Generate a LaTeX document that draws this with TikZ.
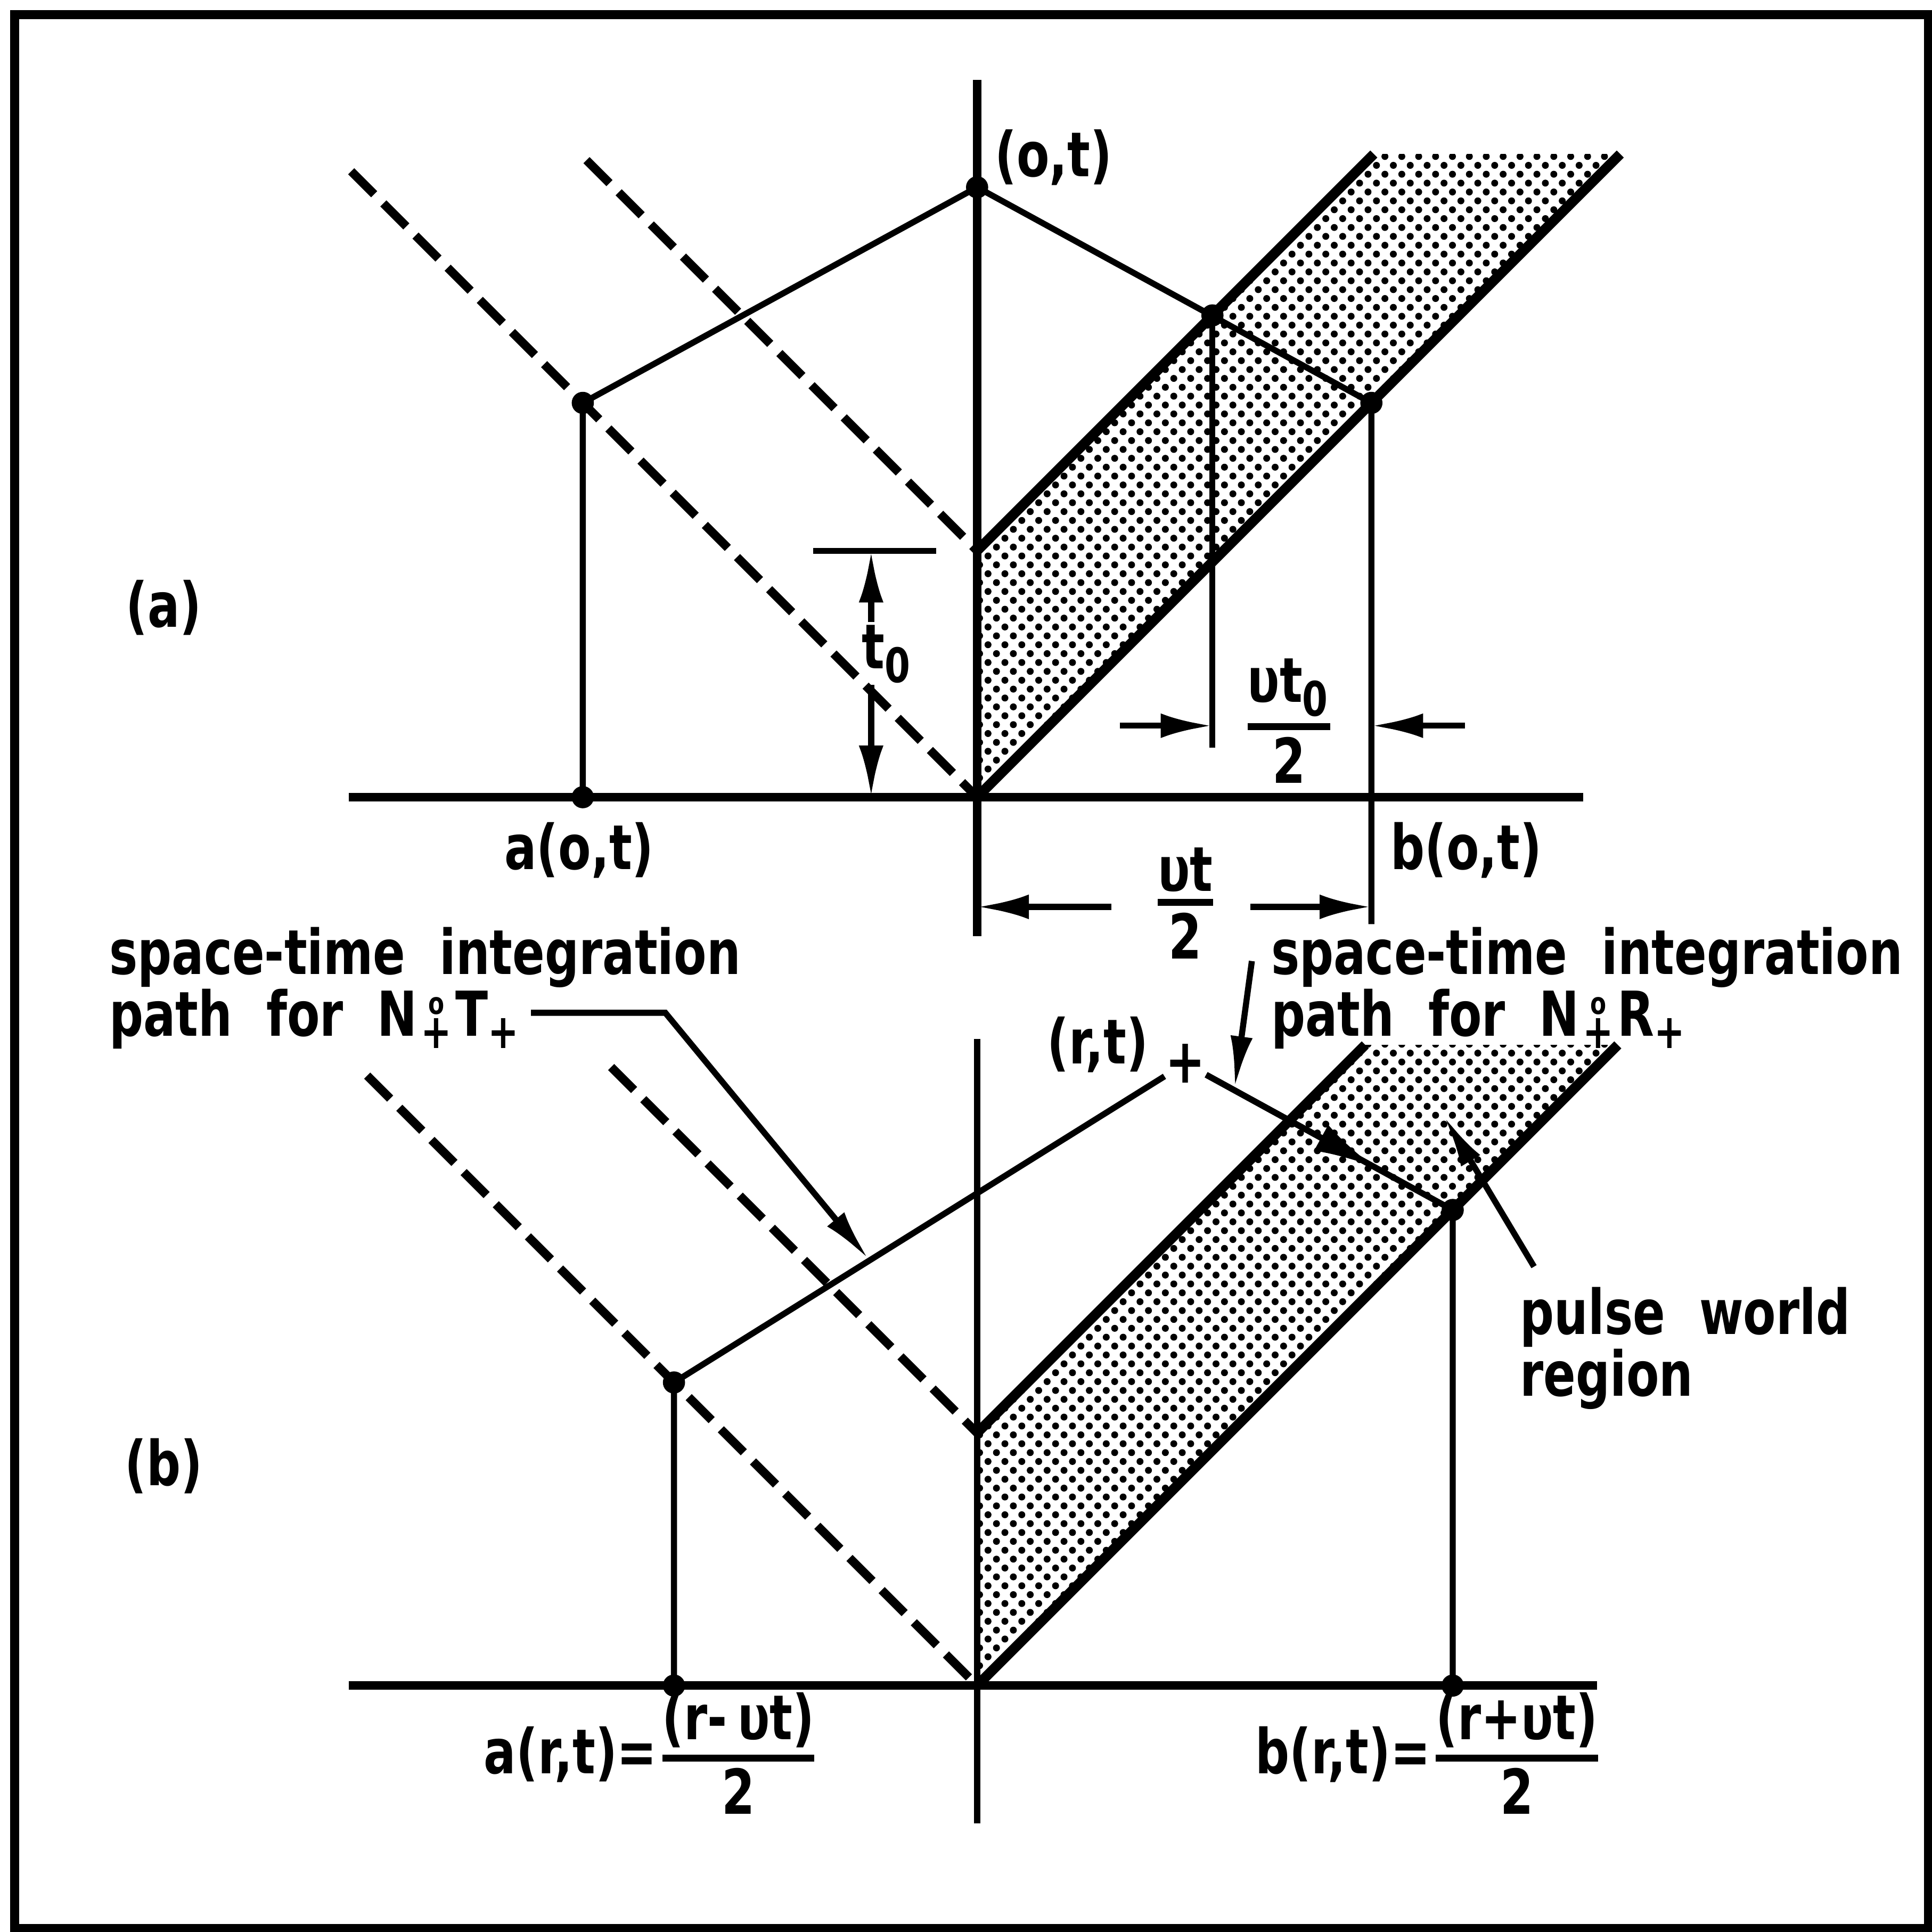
\documentclass[tikz,border=0pt]{standalone}
\usepackage{fontspec}
\usepackage{amsmath}
\setmainfont{DejaVu Sans}[FakeStretch=0.77]
\usetikzlibrary{arrows.meta,patterns,calc}

\pgfdeclarepatternformonly{pulsedots}{\pgfqpoint{-0.9pt}{-0.9pt}}{\pgfqpoint{2.9pt}{2.9pt}}{\pgfqpoint{3.9pt}{4.1pt}}{%
  \pgfpathcircle{\pgfqpoint{0pt}{0pt}}{0.8pt}%
  \pgfpathcircle{\pgfqpoint{1.95pt}{2.05pt}}{0.8pt}%
  \pgfusepath{fill}}

\newcommand{\hfrac}[2]{$\genfrac{}{}{1.6pt}{1}{\mbox{#1}}{\mbox{#2}}$}
\newcommand{\lowpl}{\raisebox{-2.8pt}{\fontsize{11}{11}\selectfont+}}
\newcommand{\Nop}{N\kern.06em\rlap{\kern1.7pt\raisebox{5pt}{\fontsize{7}{7}\selectfont o}}\lowpl\kern.06em}

\tikzset{
  axis/.style={line width=2pt},
  edge/.style={line width=2.3pt},
  ray/.style={line width=2pt,dash pattern=on 7.5pt off 3pt},
  track/.style={line width=1.4pt},
  dimarrow/.style={line width=1.4pt,-{Latex[length=4.2mm,width=2mm]}},
  lead/.style={line width=1.4pt,-{Latex[length=4.2mm,width=1.8mm]}},
  lbl/.style={font=\fontsize{14.3}{14.2}\selectfont\bfseries,inner sep=0pt},
  block/.style={lbl,align=left,anchor=north west,
    execute at begin node={\spaceskip=0.55em\relax}}
}

\begin{document}
\begin{tikzpicture}[x=1cm,y=1cm]
\useasboundingbox (-7.93,-9.21) rectangle (7.75,6.47);
\draw[line width=2.1pt] (-7.81,-9.18) rectangle (7.72,6.35);

% (a)
\coordinate (Oa) at (0,0);
\coordinate (Pa) at (0,2);
\coordinate (Ta) at (0,4.95);
\coordinate (Aa) at (-3.2,3.2);
\coordinate (Ba) at (3.2,3.2);
\coordinate (Ca) at (1.91,3.91);
\fill[pattern=pulsedots] (Oa) -- (5.22,5.22) -- (3.22,5.22) -- (Pa) -- cycle;
\draw[edge] (Pa) -- (3.22,5.22);
\draw[edge] (Oa) -- (5.22,5.22);
\draw[axis] (-5.1,0) -- (4.92,0);
\draw[axis] (0,5.82) -- (0,-1.13);
\draw[ray] (-5.08,5.08) -- (Oa);
\draw[ray] (-3.17,5.17) -- (Pa);
\draw[track] (Aa |- Oa) -- (Aa) -- (Ta) -- (Ba) -- (3.2,-1.03);
\draw[track] (Ca) -- (1.91,0.4);
\foreach \p in {Aa,Ta,Ca,Ba} \fill (\p) circle (0.09);
\fill (Aa |- Oa) circle (0.09);

\draw[track] (-1.33,2) -- (-0.33,2);
\draw[dimarrow] (-0.86,1.42) -- (-0.86,2);
\draw[dimarrow] (-0.86,0.91) -- (-0.86,0);
\node[lbl] (tz) at (-0.73,1.16) {t$_{\mbox{\fontsize{11}{11}\selectfont 0}}$};
\draw[dimarrow] (1.16,0.58) -- (1.91,0.58);
\draw[dimarrow] (3.96,0.58) -- (3.2,0.58);
\node[lbl] (vtz) at (2.53,0.62) {\hfrac{υt$_{\mbox{\fontsize{11}{11}\selectfont 0}}$}{2}};
\draw[dimarrow] (1.09,-0.89) -- (0,-0.89);
\draw[dimarrow] (2.22,-0.89) -- (3.2,-0.89);
\node[lbl] (vt) at (1.69,-0.86) {\hfrac{υt}{2}};

\node[lbl] (ot) at (0.62,5.19) {(o,t)};
\node[lbl] (aot) at (-3.23,-0.43) {a(o,t)};
\node[lbl] (bot) at (3.97,-0.43) {b(o,t)};
\node[lbl] (la) at (-6.6,1.54) {(a)};

\node[block] (lt) at (-7.05,-1.05) {space-time integration\\path for \Nop T\lowpl};
\node[block] (rtx) at (2.38,-1.05) {space-time integration\\path for \Nop R\lowpl};
\node[block] (pw) at (4.40,-3.97) {pulse world\\region};
\node[lbl] (lb) at (-6.6,-5.43) {(b)};
\coordinate (ltend) at (-3.62,-1.75);
\coordinate (rtstart) at (2.23,-1.33);
\coordinate (pwstart) at (4.52,-3.81);

% (b)
\begin{scope}[shift={(0,-7.21)}]
\coordinate (Ob) at (0,0);
\coordinate (Pb) at (0,2.05);
\coordinate (Ab) at (-2.46,2.46);
\coordinate (Bb) at (3.86,3.86);
\coordinate (tipT) at (-0.88,3.46);
\coordinate (tipR) at (2.09,4.85);
\coordinate (tipP) at (3.79,4.62);
\node[lbl] (rt) at (1.69,5.05) {+};
\node[lbl] (rtl) at (0.98,5.2) {(r,t)};
\fill[pattern=pulsedots] (Ob) -- (5.2,5.2) -- (3.15,5.2) -- (Pb) -- cycle;
\draw[edge] (Pb) -- (3.15,5.2);
\draw[edge] (Ob) -- (5.2,5.2);
\draw[axis] (-5.1,0) -- (5.03,0);
\draw[line width=1.4pt] (0,5.25) -- (0,-1.12);
\draw[ray] (-4.95,4.95) -- (Ob);
\draw[ray] (-2.97,5.02) -- (Pb);
\draw[track] (Ab |- Ob) -- (Ab) -- (rt);
\draw[track] (rt) -- (Bb) -- (Bb |- Ob);
\draw[track,-{Latex[length=5mm,width=2.4mm]}] (rt) -- ($(rt)!0.71!(Bb)$);
\foreach \p in {Ab,Bb} \fill (\p) circle (0.09);
\fill (Ab |- Ob) circle (0.09);
\fill (Bb |- Ob) circle (0.09);
\node[lbl] (arl) at (-2.64,-0.55) {a(r,t)=\hfrac{(r-\,υt)}{2}};
\node[lbl] (brl) at (3.67,-0.55) {b(r,t)=\hfrac{(r+υt)}{2}};
\end{scope}

\draw[lead] (ltend) -- (ltend -| -2.53,0) -- (tipT);
\draw[lead] (rtstart) -- (tipR);
\draw[lead] (pwstart) -- (tipP);
\end{tikzpicture}
\end{document}
